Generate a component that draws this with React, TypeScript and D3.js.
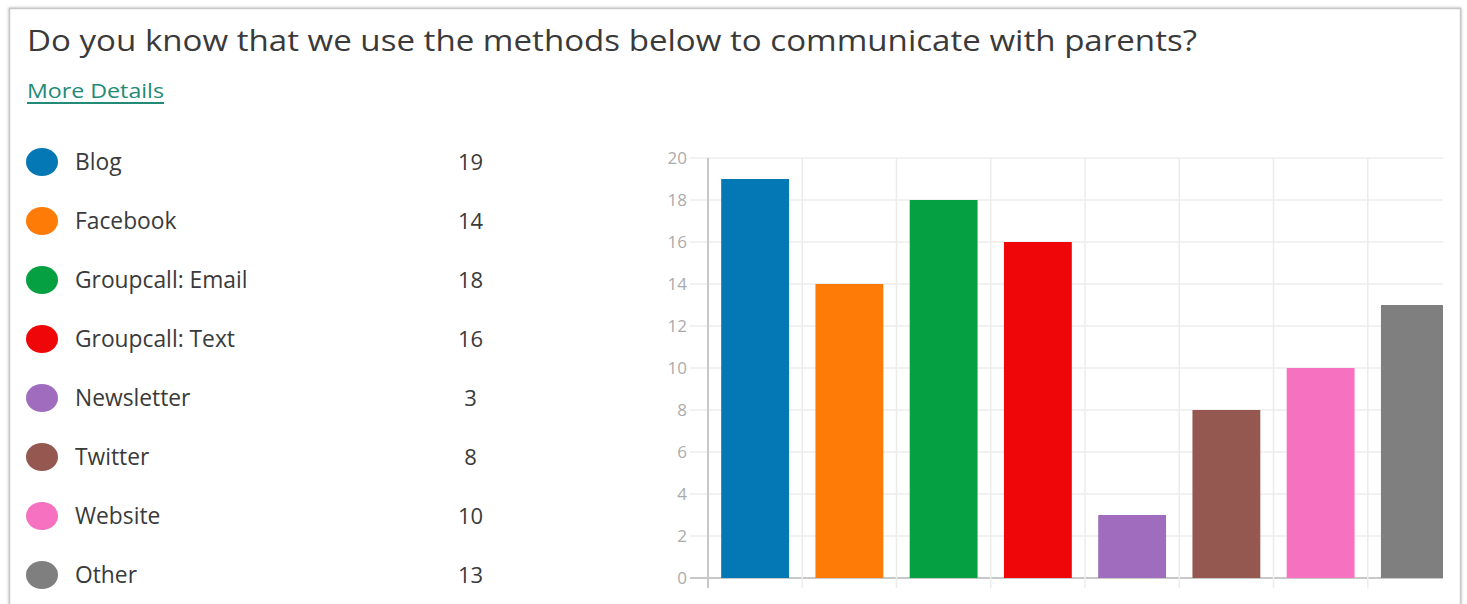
import React from "react";
import * as d3 from "d3";

const title = "Do you know that we use the methods below to communicate with parents?";
const linkText = "More Details";
const categories = ["Blog", "Facebook", "Groupcall: Email", "Groupcall: Text", "Newsletter", "Twitter", "Website", "Other"];
const values = [19, 14, 18, 16, 3, 8, 10, 13];
const colors = ["#0478b5", "#ff7b07", "#05a041", "#ee0609", "#a06cbe", "#955850", "#f672c0", "#7f7f7f"];
const yTicks = [0, 2, 4, 6, 8, 10, 12, 14, 16, 18, 20];

const W = 1467;
const H = 604;
const plotLeft = 708;
const plotRight = 1462;
const clipRight = 1443;
const plotTop = 158;
const plotBottom = 578;

export default function App() {
  const x = d3.scaleBand<string>().domain(categories).range([plotLeft, plotRight]).paddingInner(0.28).paddingOuter(0.14);
  const y = d3.scaleLinear().domain([0, 20]).range([plotBottom, plotTop]);
  const step = x.step();
  const boundaries = categories.map((c) => (x(c) as number) - step * 0.14);
  const font = "'Open Sans', 'Noto Sans', sans-serif";

  return (
    <svg width={W} height={H} style={{ position: "absolute", left: 0, top: 0, background: "#fff" }}>
      <defs>
        <clipPath id="plotClip">
          <rect x={600} y={140} width={clipRight - 600} height={460} />
        </clipPath>
        <filter id="shadow" x="-5%" y="-5%" width="110%" height="110%">
          <feDropShadow dx="0" dy="0" stdDeviation="1.5" floodColor="#999" floodOpacity="0.7" />
        </filter>
      </defs>
      <rect x={9.5} y={8.5} width={1451} height={600} fill="#fff" stroke="#c8c8c8" strokeWidth={1.5} filter="url(#shadow)" />

      <text x={27} y={51} fontFamily={font} fontSize={30} fill="#3a3a3a" textLength={1170} lengthAdjust="spacingAndGlyphs">
        {title}
      </text>
      <text x={27} y={98} fontFamily={font} fontSize={20} fill="#228a76" textLength={137} lengthAdjust="spacingAndGlyphs">
        {linkText}
      </text>
      <line x1={27} x2={164} y1={103} y2={103} stroke="#228a76" strokeWidth={2} />

      {categories.map((c, i) => {
        const cy = 162 + i * 59;
        return (
          <g key={c}>
            <ellipse cx={42} cy={cy} rx={16} ry={14} fill={colors[i]} />
            <text x={75} y={cy + 8} fontFamily={font} fontSize={22.8} fill="#3a3a3a">
              {c}
            </text>
            <text x={470.5} y={cy + 8} fontFamily={font} fontSize={22} fill="#3a3a3a" textAnchor="middle">
              {values[i]}
            </text>
          </g>
        );
      })}

      <g clipPath="url(#plotClip)">
        {yTicks.map((t) => (
          <line key={"h" + t} x1={690} x2={clipRight} y1={y(t)} y2={y(t)} stroke={t === 0 ? "#c8c8c8" : "#ececec"} strokeWidth={t === 0 ? 2 : 1.5} />
        ))}
        {boundaries.map((b, i) => (
          <line key={"v" + i} x1={b} x2={b} y1={plotTop} y2={plotBottom + 10} stroke={i === 0 ? "#c8c8c8" : "#ececec"} strokeWidth={i === 0 ? 2 : 1.5} />
        ))}
        {categories.map((c, i) => (
          <rect key={c} x={x(c)} y={y(values[i])} width={x.bandwidth()} height={plotBottom - y(values[i])} fill={colors[i]} />
        ))}
      </g>

      {yTicks.map((t) => (
        <text key={"t" + t} x={687} y={y(t)} dy="0.35em" fontFamily={font} fontSize={17} fill="#ababab" textAnchor="end">
          {t}
        </text>
      ))}
    </svg>
  );
}
